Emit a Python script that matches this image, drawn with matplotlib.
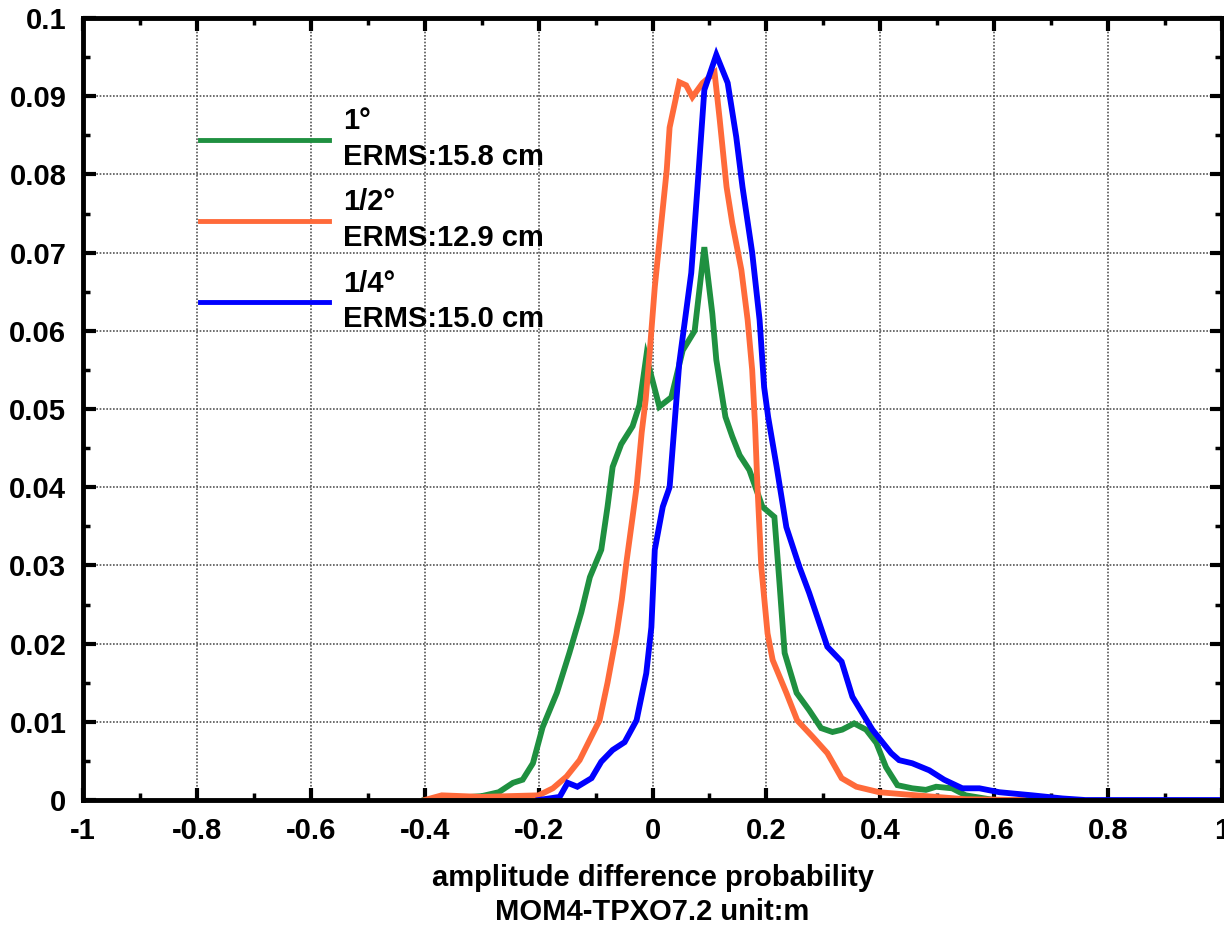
import matplotlib
matplotlib.use("Agg")
import matplotlib.pyplot as plt
from matplotlib.ticker import MultipleLocator

# ---- data ----
x_1deg = [-0.40, -0.30, -0.27, -0.245, -0.228, -0.21, -0.193, -0.168, -0.146, -0.125, -0.11, -0.09,
          -0.079, -0.07, -0.055, -0.035, -0.023, -0.011, 0.012, 0.033, 0.053, 0.074, 0.091, 0.105,
          0.112, 0.128, 0.14, 0.153, 0.17, 0.193, 0.214, 0.223, 0.232, 0.253, 0.275, 0.296, 0.316,
          0.333, 0.354, 0.375, 0.393, 0.41, 0.43, 0.456, 0.48, 0.498, 0.526, 0.55, 0.60, 0.70]
y_1deg = [0.0, 0.0005, 0.001, 0.0022, 0.0026, 0.0047, 0.0093, 0.0137, 0.0188, 0.024, 0.0285, 0.032,
          0.0375, 0.0426, 0.0455, 0.0478, 0.0505, 0.0567, 0.0503, 0.0515, 0.0575, 0.060, 0.0707, 0.0622,
          0.0563, 0.049, 0.0465, 0.0441, 0.0422, 0.0375, 0.0362, 0.0277, 0.0188, 0.0137, 0.0115, 0.0092, 0.0087,
          0.009, 0.0098, 0.009, 0.0073, 0.0042, 0.0019, 0.0015, 0.0013, 0.0017, 0.0015, 0.0006, 0.0, 0.0]

x_half = [-0.40, -0.37, -0.30, -0.20, -0.175, -0.151, -0.128, -0.093, -0.079, -0.063, -0.054, -0.046,
          -0.035, -0.028, -0.019, -0.012, -0.005, 0.004, 0.016, 0.025, 0.03, 0.047, 0.059, 0.07, 0.088,
          0.109, 0.118, 0.13, 0.14, 0.156, 0.167, 0.175, 0.18, 0.184, 0.191, 0.202, 0.211, 0.235, 0.254,
          0.281, 0.307, 0.332, 0.358, 0.398, 0.463, 0.55, 0.65]
y_half = [0.0, 0.0006, 0.0004, 0.0006, 0.0015, 0.003, 0.0051, 0.0102, 0.015, 0.0213, 0.0256, 0.0303,
          0.0362, 0.040, 0.047, 0.0512, 0.0572, 0.0656, 0.0742, 0.0806, 0.086, 0.0918, 0.0914, 0.0899, 0.0917,
          0.093, 0.087, 0.0784, 0.0738, 0.0678, 0.0614, 0.055, 0.048, 0.0405, 0.0298, 0.0213, 0.0179, 0.0137, 0.0102,
          0.0081, 0.006, 0.0028, 0.0017, 0.001, 0.0006, 0.0001, 0.0]

x_quarter = [-0.20, -0.163, -0.149, -0.132, -0.107, -0.09, -0.07, -0.049, -0.028, -0.011, -0.002, 0.004,
             0.018, 0.03, 0.042, 0.047, 0.068, 0.079, 0.091, 0.112, 0.132, 0.147, 0.158, 0.175, 0.188,
             0.196, 0.203, 0.218, 0.235, 0.258, 0.275, 0.307, 0.332, 0.351, 0.386, 0.419, 0.433, 0.456,
             0.486, 0.512, 0.544, 0.574, 0.609, 0.667, 0.72, 0.76, 1.0]
y_quarter = [0.0, 0.0004, 0.0022, 0.0017, 0.0028, 0.0049, 0.0064, 0.0074, 0.0102, 0.0162, 0.0221, 0.032,
             0.0375, 0.040, 0.0512, 0.0559, 0.0674, 0.0784, 0.0908, 0.0953, 0.0917, 0.0848, 0.0784, 0.070, 0.0614,
             0.0528, 0.049, 0.0426, 0.0349, 0.0298, 0.0265, 0.0196, 0.0177, 0.0132, 0.009, 0.006, 0.0051, 0.0047,
             0.0038, 0.0026, 0.0015, 0.0015, 0.001, 0.0006, 0.0002, 0.0, 0.0]

labels = ["1°\nERMS:15.8 cm", "1/2°\nERMS:12.9 cm", "1/4°\nERMS:15.0 cm"]
colors = ["#1f9040", "#ff6a3a", "#0000ff"]
x_ticks = [-1, -0.8, -0.6, -0.4, -0.2, 0, 0.2, 0.4, 0.6, 0.8, 1]
x_ticklabels = ["-1", "-0.8", "-0.6", "-0.4", "-0.2", "0", "0.2", "0.4", "0.6", "0.8", "1"]
y_ticks = [0, 0.01, 0.02, 0.03, 0.04, 0.05, 0.06, 0.07, 0.08, 0.09, 0.1]
y_ticklabels = ["0", "0.01", "0.02", "0.03", "0.04", "0.05", "0.06", "0.07", "0.08", "0.09", "0.1"]
xlabel = "amplitude difference probability\nMOM4-TPXO7.2 unit:m"

# ---- plot ----
plt.rcParams['font.family'] = ['Liberation Sans', 'DejaVu Sans']
plt.rcParams['font.weight'] = 'bold'
FS = 21

fig = plt.figure(figsize=(12.24, 9.25), dpi=100)
ax = fig.add_axes([0.0678, 0.1351, 0.9306, 0.8454])

lines = []
for xs, ys, c, lab in zip([x_1deg, x_half, x_quarter], [y_1deg, y_half, y_quarter], colors, labels):
    ln, = ax.plot(xs, ys, color=c, lw=4.2, label=lab, solid_joinstyle='miter', zorder=3)
    lines.append(ln)

ax.set_xlim(-1, 1)
ax.set_ylim(0, 0.1)
ax.set_xticks(x_ticks)
ax.set_xticklabels(x_ticklabels)
ax.set_yticks(y_ticks)
ax.set_yticklabels(y_ticklabels)
ax.xaxis.set_minor_locator(MultipleLocator(0.1))
ax.yaxis.set_minor_locator(MultipleLocator(0.005))
ax.tick_params(which='major', direction='in', length=9, width=3, top=True, right=True,
               labelsize=FS)
ax.tick_params(axis='x', which='major', pad=12)
ax.tick_params(axis='y', which='major', pad=12)
ax.tick_params(which='minor', direction='in', length=5, width=2.5, top=True, right=True)
for lab in ax.get_xticklabels() + ax.get_yticklabels():
    lab.set_fontweight('bold')

ax.grid(True, which='major', linestyle=(0, (1, 1)), color='#555555', lw=1.2)
for sp in ax.spines.values():
    sp.set_linewidth(3.5)
    sp.set_zorder(4)

ax.set_xlabel(xlabel, fontsize=FS, fontweight='bold', labelpad=14, linespacing=1.25)

leg = ax.legend(handles=lines, loc='upper left', bbox_to_anchor=(0.103, 0.886), frameon=False,
                handlelength=4.4, handletextpad=0.5, labelspacing=0.6, borderpad=0,
                borderaxespad=0, prop={'weight': 'bold', 'size': FS})
for t in leg.get_texts():
    t.set_linespacing(1.35)
for h in leg.get_lines():
    h.set_linewidth(3.5)

fig.savefig("out.png", dpi=100)
